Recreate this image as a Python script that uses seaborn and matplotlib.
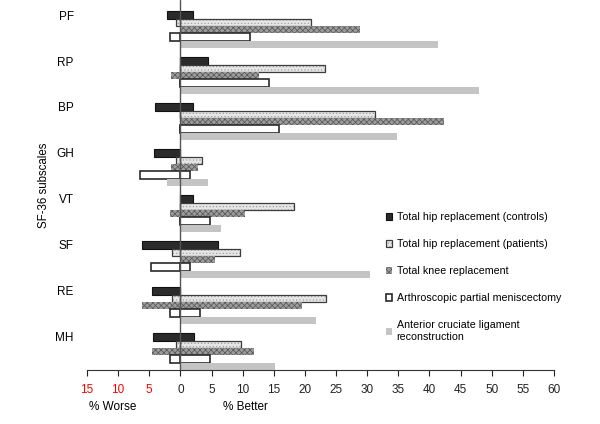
import numpy as np
import pandas as pd
import matplotlib
matplotlib.use("Agg")
import matplotlib.pyplot as plt
import seaborn as sns
from matplotlib.colors import to_rgba

# ---------------- data ----------------
categories = ["PF", "RP", "BP", "GH", "VT", "SF", "RE", "MH"]
series = [
    "Total hip replacement (controls)",
    "Total hip replacement (patients)",
    "Total knee replacement",
    "Arthroscopic partial meniscectomy",
    "Anterior cruciate ligament\nreconstruction",
]
# % worse (negative side) and % better (positive side) per subscale
controls_worse = [-2.2, 0.0, -4.1, -4.3, 0.0, -6.2, -4.6, -4.4]
controls_better = [2.1, 4.4, 2.0, 0.0, 2.1, 6.1, 0.0, 2.2]
patients_worse = [-0.7, 0.0, 0.0, -0.7, 0.0, -1.4, -1.4, -0.7]
patients_better = [20.9, 23.2, 31.3, 3.4, 18.3, 9.5, 23.4, 9.7]
tkr_worse = [0.0, -1.5, 0.0, -1.5, -1.7, 0.0, -6.2, -4.6]
tkr_better = [28.8, 12.6, 42.3, 2.9, 10.3, 5.5, 19.6, 11.9]
apm_worse = [-1.7, 0.0, 0.0, -6.5, 0.0, -4.8, -1.7, -1.7]
apm_better = [11.1, 14.3, 15.9, 1.5, 4.7, 1.5, 3.2, 4.7]
acl_worse = [0.0, 0.0, 0.0, -2.2, 0.0, 0.0, 0.0, 0.0]
acl_better = [41.4, 47.9, 34.8, 4.4, 6.5, 30.4, 21.8, 15.2]

xticks = list(range(-15, 61, 5))
xtick_labels = [str(abs(v)) for v in xticks]

worse_all = [controls_worse, patients_worse, tkr_worse, apm_worse, acl_worse]
better_all = [controls_better, patients_better, tkr_better, apm_better, acl_better]

rows = []
for s, wl, bl in zip(series, worse_all, better_all):
    for c, w, b in zip(categories, wl, bl):
        rows.append({"subscale": c, "series": s, "worse": w, "better": b})
df = pd.DataFrame(rows)

# ---------------- style ----------------
sns.set_style("white")
plt.rcParams["font.family"] = ["Liberation Sans", "DejaVu Sans"]
plt.rcParams["text.color"] = "black"
plt.rcParams["axes.labelcolor"] = "black"
plt.rcParams["xtick.color"] = "#222222"
plt.rcParams["ytick.color"] = "black"
plt.rcParams["hatch.linewidth"] = 0.5

faces = ["#2b2b2b", "#e6e6e6", "#9c9c9c", "#ffffff", "#c4c4c4"]
edges = ["#111111", "#3c3c3c", "#5a5a5a", "#2a2a2a", "#c4c4c4"]
lws = [0.8, 0.9, 0.0, 1.2, 0.0]
hatches = [None, ".....", "xxxxxx", None, None]
hatch_cols = [None, "#a0a0a0", "#555555", None, None]

fig = plt.figure(figsize=(6.0, 4.24), dpi=100)
ax = fig.add_axes([87 / 600, 54 / 424, 467 / 600, 370 / 424])

for col in ["better", "worse"]:
    sns.barplot(data=df, y="subscale", x=col, hue="series", order=categories,
                hue_order=series, orient="h", errorbar=None, dodge=True,
                width=0.8, palette=faces, legend=False, ax=ax, saturation=1)

for k, cont in enumerate(ax.containers):
    i = k % 5
    for p in cont.patches:
        p.set_facecolor(faces[i])
        p.set_edgecolor(edges[i])
        p.set_linewidth(lws[i])
        if hatches[i]:
            p.set_hatch(hatches[i])
            p._hatch_color = to_rgba(hatch_cols[i])

ax.axvline(0, color="#555555", lw=1.0, zorder=5)

ax.set_xlim(-15, 60)
ax.set_ylim(7.4, -0.647)
ax.set_xticks(xticks, labels=xtick_labels)
for v, lbl in zip(xticks, ax.get_xticklabels()):
    if v < 0:
        lbl.set_color("#ff0000")
ax.tick_params(axis="x", bottom=True, direction="out", length=4, width=0.8,
               pad=6, labelsize=8.5)
ax.set_yticks(np.arange(len(categories)) - 0.32, labels=categories)
ax.tick_params(axis="y", left=False, length=0, pad=9.5, labelsize=8.5)

for s in ["top", "right", "left"]:
    ax.spines[s].set_visible(False)
ax.spines["bottom"].set_color("#333333")
ax.spines["bottom"].set_linewidth(0.8)

ax.set_xlabel("")
ax.set_ylabel("SF-36 subscales", fontsize=8.3)
ax.yaxis.set_label_coords(-0.079, 0.5)

xt = ax.get_xaxis_transform()
ax.text(-10.8, -0.1, "% Worse", transform=xt, ha="center", va="center",
        fontsize=8.5)
ax.text(10.4, -0.1, "% Better", transform=xt, ha="center", va="center",
        fontsize=8.5)

handles = [ax.containers[i].patches[0] for i in range(5)]
ax.legend(handles, series, loc="upper left",
          bbox_to_anchor=(386 / 600, 1 - 212 / 424), bbox_transform=fig.transFigure,
          frameon=False, fontsize=7.7, handlelength=0.6, handleheight=0.6,
          handletextpad=0.4, labelspacing=1.6, borderpad=0, borderaxespad=0)

fig.savefig("out.png", dpi=100)
